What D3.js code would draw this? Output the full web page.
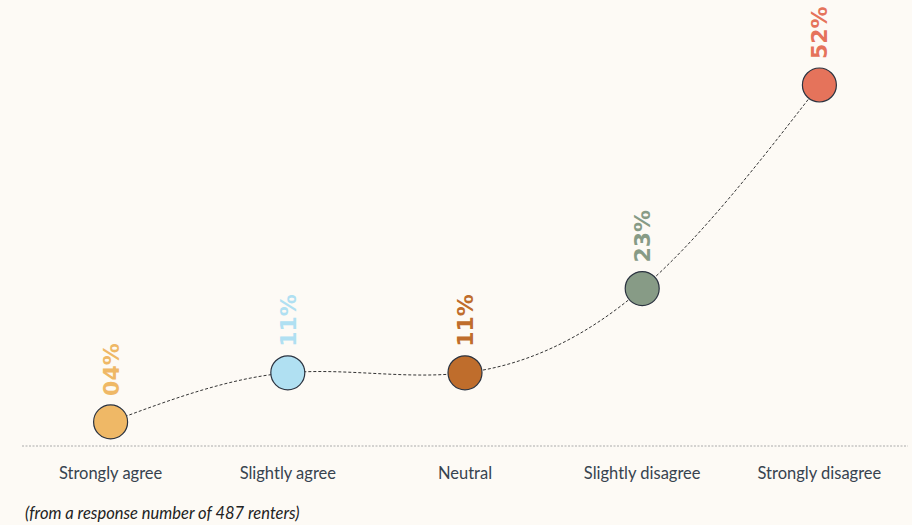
<!DOCTYPE html>
<html>
<head>
<meta charset="utf-8">
<script src="https://cdn.jsdelivr.net/npm/d3@7"></script>
<style>
  body { margin: 0; background: #fdfaf5; }
  svg { display: block; }
</style>
</head>
<body>
<svg id="chart" width="912" height="525"></svg>
<script>
// answers and share of renters (%)
const categories = ['Strongly agree', 'Slightly agree', 'Neutral', 'Slightly disagree', 'Strongly disagree'];
const values = [4, 11, 11, 23, 52];
const colors = ['#efb866', '#b0e0f2', '#bf6d2c', '#879b86', '#e5735b'];
const footnote = '(from a response number of 487 renters)';

const width = 912;
const height = 525;
const baseline = 446;

const svg = d3.select('#chart');

svg.append('rect')
  .attr('width', width)
  .attr('height', height)
  .attr('fill', '#fdfaf5');

const x = d3.scaleBand()
  .domain(categories)
  .range([22, 908]);

const y = d3.scaleLinear()
  .domain([0, d3.max(values)])
  .range([450, 85]);

const cx = d => x(d) + x.bandwidth() / 2;

const pts = categories.map((c, i) => ({ cat: c, value: values[i], color: colors[i] }));

// baseline
svg.append('line')
  .attr('x1', x.range()[0])
  .attr('x2', x.range()[1])
  .attr('y1', baseline)
  .attr('y2', baseline)
  .attr('stroke', '#aaa')
  .attr('stroke-width', 1)
  .attr('stroke-dasharray', '2,1.5');

// category labels
svg.append('g')
  .selectAll('text')
  .data(categories)
  .join('text')
  .attr('x', d => cx(d))
  .attr('y', 479)
  .attr('text-anchor', 'middle')
  .style('font-family', 'Lato, "Noto Sans", sans-serif')
  .style('font-size', '16.5px')
  .style('fill', '#37434f')
  .text(d => d);

// connecting line
const line = d3.line()
  .x(d => cx(d.cat))
  .y(d => y(d.value))
  .curve(d3.curveNatural);

svg.append('path')
  .datum(pts)
  .attr('d', line)
  .attr('fill', 'none')
  .attr('stroke', '#333')
  .attr('stroke-width', 1)
  .attr('stroke-dasharray', '3,2');

// points
svg.append('g')
  .selectAll('circle')
  .data(pts)
  .join('circle')
  .attr('cx', d => cx(d.cat))
  .attr('cy', d => y(d.value))
  .attr('r', 17)
  .attr('fill', d => d.color)
  .attr('stroke', '#2b3340')
  .attr('stroke-width', 1.2);

// value labels
svg.append('g')
  .selectAll('text')
  .data(pts)
  .join('text')
  .attr('transform', d => `translate(${cx(d.cat)},${y(d.value) - 26}) rotate(-90)`)
  .attr('dy', '0.36em')
  .style('font-family', '"DejaVu Sans", sans-serif')
  .style('font-weight', 'bold')
  .style('font-size', '22px')
  .style('fill', d => d.color)
  .text(d => d3.format('02d')(d.value) + '%');

// footnote
svg.append('text')
  .attr('x', 25)
  .attr('y', 519)
  .style('font-family', 'Lato, "Noto Sans", sans-serif')
  .style('font-style', 'italic')
  .style('font-size', '16.5px')
  .style('fill', '#222')
  .text(footnote);
</script>
</body>
</html>
